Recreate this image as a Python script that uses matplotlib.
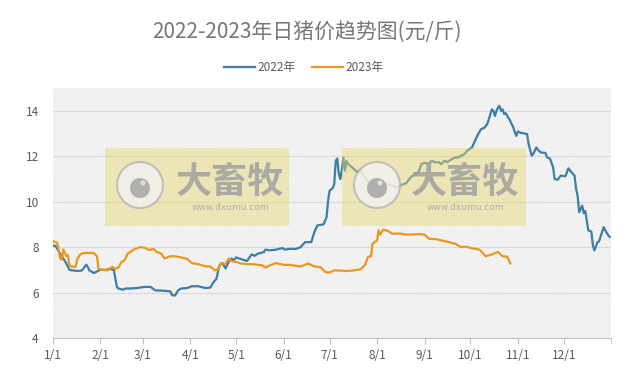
import matplotlib
matplotlib.use("Agg")
import matplotlib.pyplot as plt
from matplotlib.patches import Rectangle, Circle
from matplotlib.transforms import IdentityTransform

plt.rcParams['font.family'] = ['Noto Sans CJK SC', 'DejaVu Sans']
plt.rcParams['hatch.color'] = '#d6d6d6'
plt.rcParams['hatch.linewidth'] = 0.45

# day of year (0 = 1/1) and price
days_2022 = [0, 2, 5, 7, 9, 11, 16, 19, 20, 22, 23, 24, 27, 29, 31, 35, 37, 40, 41, 42,
             43, 46, 48, 51, 55, 60, 64, 67, 73, 77, 78, 80, 82, 84, 88, 91, 95, 100, 103, 105,
             107, 109, 111, 113, 115, 117, 118, 120, 122, 127, 130, 132, 134, 138, 139, 142, 146, 150, 152, 155,
             159, 162, 165, 169, 171, 173, 177, 179, 180, 181, 183, 184, 185, 186, 187, 188, 189, 190, 191, 192,
             193, 196, 199, 201, 203, 205, 206, 207, 208, 209, 210, 211, 214, 216, 219, 222, 225, 228, 231, 234,
             237, 239, 241, 243, 245, 248, 250, 252, 254, 256, 258, 261, 263, 265, 267, 269, 271, 274, 276, 278,
             280, 282, 284, 286, 287, 288, 289, 290, 291, 292, 293, 294, 295, 296, 299, 300, 301, 302, 303, 304,
             305, 307, 310, 311, 313, 314, 316, 317, 319, 322, 323, 325, 327, 328, 330, 332, 335, 337, 339, 341,
             342, 343, 344, 346, 347, 348, 349, 350, 352, 353, 354, 356, 357, 359, 360, 361, 363, 364]
price_2022 = [8.08, 8.05, 7.71, 7.5, 7.28, 7.0, 6.95, 6.97, 7.05, 7.23, 7.13, 6.98, 6.86, 6.93, 7.0, 7.0, 7.05, 7.0, 6.62, 6.25,
              6.18, 6.13, 6.18, 6.18, 6.2, 6.25, 6.25, 6.1, 6.08, 6.05, 5.89, 5.87, 6.1, 6.18, 6.2, 6.28, 6.28, 6.2, 6.22, 6.45,
              6.6, 7.2, 7.3, 7.06, 7.35, 7.5, 7.4, 7.55, 7.5, 7.39, 7.68, 7.62, 7.71, 7.78, 7.89, 7.86, 7.89, 7.96, 7.89, 7.93,
              7.92, 8.0, 8.22, 8.22, 8.66, 8.96, 9.0, 9.32, 10.05, 10.49, 10.6, 10.78, 11.8, 11.9, 11.22, 11.0, 11.4, 11.95, 11.37, 11.8,
              11.66, 11.5, 11.3, 11.4, 11.15, 11.0, 10.9, 10.49, 10.35, 10.6, 10.78, 10.64, 10.75, 10.8, 10.78, 10.7, 10.64, 10.75, 10.81, 11.08,
              11.22, 11.3, 11.66, 11.72, 11.66, 11.8, 11.73, 11.75, 11.66, 11.8, 11.75, 11.88, 11.95, 11.95, 12.03, 12.1, 12.25, 12.39, 12.68, 12.98,
              13.2, 13.25, 13.42, 13.86, 14.07, 14.0, 13.78, 14.0, 14.15, 14.22, 14.0, 14.07, 13.86, 13.9, 13.56, 13.42, 13.27, 13.05, 12.9, 13.1,
              13.05, 13.02, 12.98, 12.54, 12.03, 12.1, 12.39, 12.3, 12.17, 12.15, 11.95, 11.9, 11.51, 11.0, 10.97, 11.15, 11.12, 11.47, 11.3, 11.15,
              10.57, 10.27, 9.54, 9.83, 9.5, 9.6, 9.18, 8.74, 8.68, 8.08, 7.86, 8.22, 8.25, 8.66, 8.88, 8.75, 8.52, 8.45]

days_2023 = [0, 3, 4, 5, 6, 7, 9, 10, 11, 12, 15, 16, 18, 20, 24, 27, 29, 30, 31, 33,
             36, 39, 41, 43, 45, 47, 49, 52, 54, 57, 60, 62, 64, 66, 68, 71, 73, 77, 80, 84,
             88, 91, 95, 100, 103, 106, 108, 110, 113, 115, 117, 120, 123, 127, 131, 137, 139, 142, 146, 151,
             155, 162, 167, 171, 175, 178, 181, 184, 188, 192, 196, 201, 204, 206, 208, 209, 212, 213, 214, 216,
             219, 222, 227, 231, 236, 240, 243, 246, 251, 255, 259, 263, 267, 270, 274, 279, 283, 287, 291, 294,
             297, 299]
price_2023 = [8.27, 8.2, 7.86, 7.5, 7.45, 7.9, 7.6, 7.65, 7.2, 7.15, 7.13, 7.45, 7.68, 7.74, 7.75, 7.74, 7.6, 7.06, 7.02, 7.0,
              6.98, 7.13, 7.05, 7.1, 7.35, 7.42, 7.71, 7.85, 7.93, 8.0, 7.98, 7.9, 7.88, 7.93, 7.79, 7.72, 7.5, 7.6, 7.6, 7.55,
              7.48, 7.3, 7.25, 7.16, 7.15, 6.98, 7.02, 7.3, 7.25, 7.5, 7.38, 7.35, 7.28, 7.25, 7.25, 7.2, 7.1, 7.2, 7.3, 7.22,
              7.22, 7.15, 7.28, 7.15, 7.12, 6.91, 6.88, 6.98, 6.97, 6.95, 6.97, 7.02, 7.2, 7.57, 7.6, 8.15, 8.3, 8.74, 8.55, 8.77,
              8.72, 8.59, 8.6, 8.55, 8.56, 8.58, 8.55, 8.37, 8.35, 8.28, 8.22, 8.15, 8.0, 8.02, 7.95, 7.89, 7.6, 7.68, 7.79, 7.6,
              7.58, 7.28]

month_starts = [0, 31, 59, 90, 120, 151, 181, 212, 243, 273, 304, 334]
month_labels = ['1/1', '2/1', '3/1', '4/1', '5/1', '6/1', '7/1', '8/1', '9/1', '10/1', '11/1', '12/1']

fig = plt.figure(figsize=(6.32, 3.69), dpi=100)
ax = fig.add_axes([0.0832, 0.084, 0.884, 0.677])

# hatched background
ax.add_patch(Rectangle((0, 0), 1, 1, transform=ax.transAxes, facecolor='white',
                       edgecolor='#d6d6d6', lw=0, hatch='\\' * 12, zorder=0))

ax.plot(days_2022, price_2022, color='#3d7ea6', lw=1.6, label='2022年', zorder=3)
ax.plot(days_2023, price_2023, color='#ec971c', lw=1.6, label='2023年', zorder=3)

ax.set_xlim(0, 365)
ax.set_ylim(4, 15)
ax.set_yticks([4, 6, 8, 10, 12, 14])
ax.set_xticks(month_starts)
ax.set_xticklabels(month_labels)
ax.set_xticks([365], minor=True)
ax.tick_params(axis='x', which='both', length=4, color='#bfbfbf', labelcolor='#595959',
               labelsize=8.5, pad=4)
ax.tick_params(axis='y', length=0, labelcolor='#595959', labelsize=8.5, pad=10)
ax.grid(axis='y', color='#d9d9d9', lw=0.8, zorder=1)
ax.set_axisbelow(True)
for s in ['top', 'right', 'left']:
    ax.spines[s].set_visible(False)
ax.spines['bottom'].set_color('#bfbfbf')

fig.text(0.486, 0.913, '2022-2023年日猪价趋势图(元/斤)', ha='center', va='center',
         fontsize=15, color='#777777')
fig.legend(loc='center', bbox_to_anchor=(0.481, 0.816), ncol=2, frameon=False,
           fontsize=8.5, handlelength=2.6, handletextpad=0.2, columnspacing=1.4,
           labelcolor='#595959')

# watermarks
H = 369
for bx, cx, tx in [(105, 140, 230), (342, 377, 465)]:
    fig.add_artist(Rectangle((bx, H - 226), 184, 78, transform=IdentityTransform(),
                             facecolor='#e8d870', alpha=0.45, lw=0, zorder=5))
    fig.add_artist(Circle((cx, H - 185), 23, transform=IdentityTransform(),
                          facecolor='#f2f2f2', edgecolor='#b5b5b5', lw=1.5, alpha=0.8, zorder=6))
    fig.add_artist(Circle((cx, H - 188), 10, transform=IdentityTransform(),
                          facecolor='#a5a5a5', lw=0, alpha=0.85, zorder=7))
    fig.add_artist(Circle((cx + 3, H - 183), 2.5, transform=IdentityTransform(),
                          facecolor='#e6e6e6', lw=0, alpha=0.9, zorder=7))
    fig.text(tx / 632, (H - 182) / H, '大畜牧', ha='center', va='center', fontsize=26,
             fontweight='bold', color='#a0a0a0', alpha=0.85, zorder=8)
    fig.text(tx / 632, (H - 208) / H, 'www.dxumu.com', ha='center', va='center', fontsize=6.5,
             color='#a8a8a8', alpha=0.85, zorder=8, family='DejaVu Sans')

fig.savefig('out.png', dpi=100)
